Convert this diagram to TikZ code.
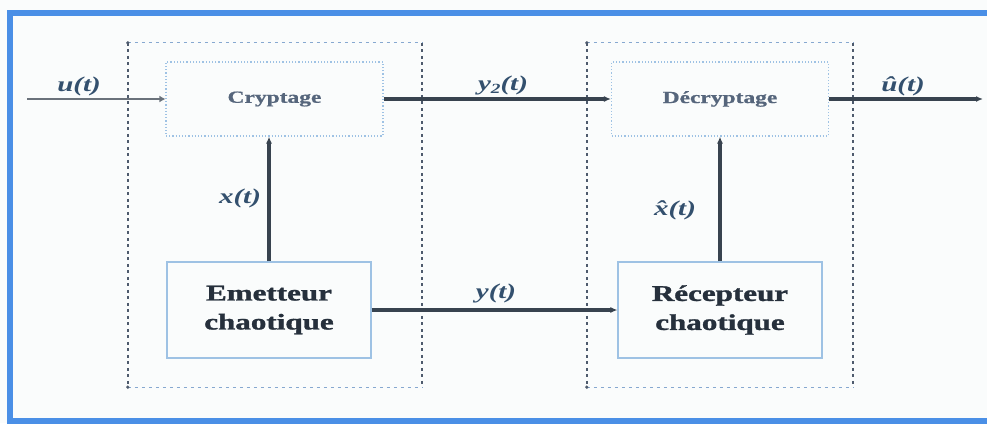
\documentclass[tikz,border=0pt]{standalone}
\usepackage{fontspec}
\setmainfont{Liberation Serif}
\usepackage{graphicx}
\usetikzlibrary{arrows.meta,calc}
\definecolor{canvas}{HTML}{FAFCFC}
\definecolor{frameblue}{HTML}{4A8FE6}
\definecolor{linegrey}{HTML}{38434F}
\definecolor{sidegrey}{HTML}{4E5B6D}
\definecolor{edgeblue}{HTML}{86A8D0}
\definecolor{boxblue}{HTML}{9EC2E4}
\definecolor{lbl}{HTML}{33506E}
\definecolor{soft}{HTML}{56667C}
\definecolor{ink}{HTML}{26303C}
\newcommand{\wide}[1]{\scalebox{1.38}[1]{#1}}
\tikzset{
  x=1pt, y=-1pt,
  smallbox/.style={draw=boxblue, line width=1.2pt, dotted, minimum width=217pt,
    minimum height=74pt, inner sep=0pt, text=soft,
    font=\fontsize{17}{19}\selectfont\bfseries\addfontfeature{FakeBold=0.8}},
  bigbox/.style={draw=boxblue, line width=1.1pt, minimum width=204pt,
    minimum height=96pt, inner sep=0pt, text=ink, align=center,
    font=\fontsize{22.5}{29}\selectfont\bfseries\addfontfeature{FakeBold=1.2}},
  group/.style={draw=none, inner sep=0pt},
  side/.style={draw=sidegrey, line width=1.6pt, dash pattern=on 3pt off 3.5pt},
  rim/.style={draw=edgeblue, line width=1.3pt, dash pattern=on 3pt off 4pt},
  sig/.style={draw=linegrey, line width=3.2pt, -{Latex[length=7pt,width=6pt]}},
  insig/.style={draw=linegrey!75, line width=2.6pt, -{Latex[length=6pt,width=7pt]}},
  lab/.style={text=lbl, inner sep=0pt,
    font=\fontsize{21}{24}\selectfont\bfseries\itshape}
}
\begin{document}
\begin{tikzpicture}
% canvas and outer frame
\fill[canvas] (0,0) rectangle (987,423);
\useasboundingbox (0,0) rectangle (987,423);
\begin{scope}
\clip (0,0) rectangle (987,423);
\draw[frameblue, line width=5.5pt] (10,13) rectangle (1000,421);
\end{scope}

% transmitter and receiver groups (dashed outlines)
\node[group, minimum width=294pt, minimum height=344pt] (grpE) at (275,215) {};
\node[group, minimum width=266pt, minimum height=344pt] (grpR) at (720,215) {};
\foreach \g in {grpE,grpR}{
  \draw[rim] (\g.north west) -- (\g.north east);
  \draw[rim] (\g.south west) -- (\g.south east);
  \draw[side] (\g.north west) -- (\g.south west);
  \draw[side] (\g.north east) -- (\g.south east);
  \fill[sidegrey] (\g.north west) circle (1.8pt);
  \fill[sidegrey] (\g.south west) circle (1.8pt);
}

% blocks
\node[smallbox] (crypt) at (274.5,99) {\wide{Cryptage}};
\node[smallbox] (decrypt) at (720,99) {\wide{Décryptage}};
\node[bigbox] (emet) at (269,310) {\wide{Emetteur}\\\wide{chaotique}};
\node[bigbox] (recep) at (720,310) {\wide{Récepteur}\\\wide{chaotique}};

% free ends of the input and output lines
\coordinate (uin) at (27,99);
\coordinate (uout) at (983,99);

% signals
\draw[insig] (uin) -- (crypt.west);
\draw[sig] (crypt.east) -- (decrypt.west);
\draw[sig] (decrypt.east) -- (uout);
\draw[sig] (emet.east) -- (recep.west);
\draw[sig] (emet.north) -- (emet.north |- crypt.south);
\draw[sig] (recep.north) -- (recep.north |- decrypt.south);

% signal labels
\node[lab] (lu) at (79,86) {\wide{u(t)}};
\node[lab] (ly2) at (503,85) {\wide{y\raisebox{-3pt}{\fontsize{14}{14}\selectfont 2}(t)}};
\node[lab] (luh) at (903,86) {\wide{û(t)}};
\node[lab] (lx) at (240,198) {\wide{x(t)}};
\node[lab] (lxh) at (675,210) {\wide{\^x(t)}};
\node[lab] (ly) at (496,293) {\wide{y(t)}};
\end{tikzpicture}
\end{document}
